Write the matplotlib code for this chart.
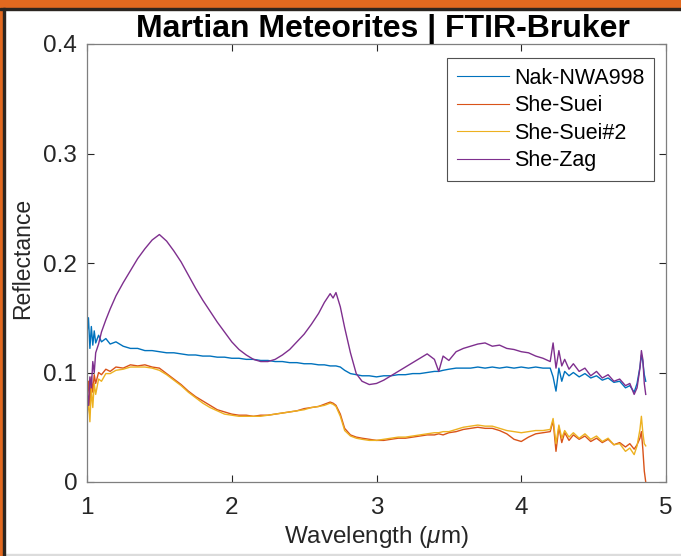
import matplotlib
matplotlib.use("Agg")
import matplotlib.pyplot as plt
from matplotlib.patches import Rectangle

plt.rcParams["font.family"] = ["Liberation Sans", "DejaVu Sans"]
plt.rcParams["mathtext.fontset"] = "custom"
plt.rcParams["mathtext.it"] = "Liberation Sans:italic"
plt.rcParams["mathtext.rm"] = "Liberation Sans"

# wavelength grid (um)
wavelength = [
    1.00, 1.01, 1.02, 1.03, 1.04, 1.05, 1.06, 1.08, 1.10, 1.13,
    1.16, 1.20, 1.25, 1.30, 1.35, 1.40, 1.45, 1.50, 1.55, 1.60,
    1.65, 1.70, 1.75, 1.80, 1.85, 1.90, 1.95, 2.00, 2.05, 2.10,
    2.15, 2.20, 2.25, 2.30, 2.35, 2.40, 2.45, 2.50, 2.55, 2.60,
    2.64, 2.68, 2.70, 2.72, 2.75, 2.78, 2.82, 2.86, 2.90, 2.95,
    3.00, 3.05, 3.10, 3.15, 3.20, 3.25, 3.30, 3.35, 3.40, 3.43,
    3.46, 3.50, 3.55, 3.60, 3.65, 3.70, 3.75, 3.80, 3.85, 3.90,
    3.95, 4.00, 4.05, 4.10, 4.15, 4.20, 4.22, 4.24, 4.26, 4.28,
    4.30, 4.33, 4.36, 4.40, 4.44, 4.48, 4.52, 4.56, 4.60, 4.64,
    4.68, 4.72, 4.75, 4.78, 4.80, 4.82, 4.83, 4.84, 4.85, 4.86,
]

nak_nwa998 = [
    0.135, 0.150, 0.122, 0.142, 0.125, 0.138, 0.127, 0.134, 0.128, 0.131,
    0.126, 0.128, 0.124, 0.122, 0.122, 0.120, 0.120, 0.119, 0.118, 0.118,
    0.117, 0.116, 0.116, 0.115, 0.115, 0.114, 0.114, 0.113, 0.113, 0.112,
    0.112, 0.111, 0.111, 0.110, 0.110, 0.109, 0.109, 0.108, 0.108, 0.107,
    0.107, 0.106, 0.106, 0.106, 0.105, 0.102, 0.099, 0.098, 0.097, 0.097,
    0.096, 0.097, 0.097, 0.098, 0.098, 0.099, 0.099, 0.100, 0.101, 0.101,
    0.102, 0.103, 0.104, 0.104, 0.104, 0.105, 0.104, 0.105, 0.104, 0.105,
    0.104, 0.105, 0.104, 0.105, 0.104, 0.104, 0.096, 0.083, 0.104, 0.092,
    0.101, 0.097, 0.100, 0.096, 0.099, 0.095, 0.097, 0.093, 0.095, 0.091,
    0.092, 0.086, 0.088, 0.082, 0.090, 0.105, 0.116, 0.110, 0.098, 0.092,
]

she_suei = [
    0.078, 0.092, 0.070, 0.096, 0.082, 0.098, 0.090, 0.100, 0.098, 0.103,
    0.101, 0.105, 0.104, 0.107, 0.106, 0.107, 0.105, 0.104, 0.099, 0.094,
    0.089, 0.083, 0.078, 0.074, 0.070, 0.066, 0.064, 0.062, 0.061, 0.061,
    0.060, 0.061, 0.061, 0.062, 0.063, 0.064, 0.065, 0.067, 0.068, 0.069,
    0.071, 0.073, 0.072, 0.070, 0.062, 0.049, 0.043, 0.041, 0.040, 0.039,
    0.038, 0.038, 0.039, 0.040, 0.040, 0.041, 0.042, 0.043, 0.043, 0.044,
    0.043, 0.045, 0.046, 0.048, 0.049, 0.050, 0.049, 0.049, 0.047, 0.044,
    0.039, 0.037, 0.041, 0.044, 0.045, 0.046, 0.056, 0.028, 0.050, 0.036,
    0.045, 0.038, 0.043, 0.039, 0.042, 0.037, 0.040, 0.036, 0.039, 0.034,
    0.036, 0.032, 0.035, 0.030, 0.034, 0.040, 0.046, 0.030, 0.010, 0.000,
]

she_suei2 = [
    0.058, 0.075, 0.055, 0.085, 0.068, 0.090, 0.080, 0.094, 0.092, 0.099,
    0.099, 0.102, 0.103, 0.105, 0.105, 0.105, 0.104, 0.102, 0.098, 0.093,
    0.088, 0.082, 0.077, 0.072, 0.068, 0.065, 0.062, 0.061, 0.060, 0.060,
    0.060, 0.060, 0.061, 0.062, 0.063, 0.064, 0.065, 0.066, 0.068, 0.069,
    0.070, 0.072, 0.071, 0.069, 0.060, 0.047, 0.042, 0.040, 0.039, 0.038,
    0.038, 0.039, 0.040, 0.041, 0.041, 0.042, 0.043, 0.044, 0.045, 0.045,
    0.046, 0.046, 0.048, 0.050, 0.051, 0.052, 0.051, 0.051, 0.049, 0.047,
    0.046, 0.045, 0.046, 0.047, 0.047, 0.048, 0.058, 0.035, 0.052, 0.040,
    0.047, 0.041, 0.045, 0.040, 0.044, 0.039, 0.042, 0.037, 0.040, 0.034,
    0.035, 0.028, 0.031, 0.025, 0.033, 0.048, 0.060, 0.045, 0.035, 0.033,
]

she_zag = [
    0.083, 0.070, 0.096, 0.086, 0.110, 0.100, 0.118, 0.126, 0.137, 0.148,
    0.158, 0.170, 0.182, 0.193, 0.204, 0.213, 0.221, 0.226, 0.220, 0.211,
    0.201, 0.189, 0.177, 0.166, 0.156, 0.146, 0.137, 0.128, 0.121, 0.116,
    0.112, 0.110, 0.110, 0.112, 0.116, 0.121, 0.128, 0.135, 0.144, 0.154,
    0.164, 0.172, 0.168, 0.173, 0.160, 0.141, 0.118, 0.099, 0.092, 0.089,
    0.090, 0.093, 0.097, 0.101, 0.105, 0.109, 0.113, 0.117, 0.112, 0.101,
    0.115, 0.111, 0.119, 0.122, 0.124, 0.126, 0.127, 0.124, 0.125, 0.122,
    0.121, 0.119, 0.118, 0.115, 0.113, 0.110, 0.127, 0.104, 0.120, 0.106,
    0.112, 0.103, 0.108, 0.101, 0.104, 0.097, 0.101, 0.095, 0.098, 0.092,
    0.094, 0.088, 0.090, 0.080, 0.086, 0.104, 0.120, 0.112, 0.090, 0.080,
]

series = [
    ("Nak-NWA998", nak_nwa998, "#0072BD"),
    ("She-Suei", she_suei, "#D95319"),
    ("She-Suei#2", she_suei2, "#EDB120"),
    ("She-Zag", she_zag, "#7E2F8E"),
]

fig = plt.figure(figsize=(6.81, 5.56), dpi=100)
ax = fig.add_axes([87 / 681, 1 - 482 / 556, 579 / 681, 438 / 556])

for name, vals, col in series:
    ax.plot(wavelength, vals, color=col, lw=1.0, label=name)

ax.set_xlim(1, 5)
ax.set_ylim(0, 0.4)
ax.set_xticks([1, 2, 3, 4, 5])
ax.set_yticks([0, 0.1, 0.2, 0.3, 0.4])
ax.set_yticklabels(["0", "0.1", "0.2", "0.3", "0.4"])
ax.tick_params(direction="in", top=True, right=True, length=5, width=0.8,
               labelsize=17.5, colors="#262626")
ax.tick_params(axis="x", pad=11)
ax.tick_params(axis="y", pad=7)
for sp in ax.spines.values():
    sp.set_color("#7f7f7f")
    sp.set_linewidth(0.9)

ax.set_xlabel(r"Wavelength ($\mu$m)", fontsize=17.5, color="#262626", va="center")
ax.xaxis.set_label_coords(0.5, -0.126)
ax.set_ylabel("Reflectance", fontsize=16.5, color="#262626", va="center")
ax.yaxis.set_label_coords(-0.112, 0.51)
ax.text(0.511, 1.034, "Martian Meteorites | FTIR-Bruker", transform=ax.transAxes,
        ha="center", va="center", fontsize=23, fontweight="bold")

leg = ax.legend(loc="upper right", fontsize=15.5, handlelength=2.45, handletextpad=0.2,
                borderpad=0.45, labelspacing=0.3, fancybox=False,
                bbox_to_anchor=(0.979, 0.968), borderaxespad=0)
leg.get_frame().set_edgecolor("#262626")
leg.get_frame().set_linewidth(0.8)
for line in leg.get_lines():
    line.set_linewidth(0.8)

# orange slide frame around the screenshot
fig.patches.append(Rectangle((0, 1 - 8 / 556), 1, 8 / 556, transform=fig.transFigure,
                             color="#E2691F", zorder=10))
fig.patches.append(Rectangle((0, 0), 3 / 681, 1, transform=fig.transFigure,
                             color="#E2691F", zorder=10))
fig.patches.append(Rectangle((0, 1 - 10 / 556), 1, 2 / 556, transform=fig.transFigure,
                             color="#2b2520", zorder=10))
fig.patches.append(Rectangle((3 / 681, 0), 1.5 / 681, 1 - 8 / 556, transform=fig.transFigure,
                             color="#2b2520", zorder=10))
fig.patches.append(Rectangle((0, 0), 1, 2 / 556, transform=fig.transFigure,
                             color="#dcdcdc", zorder=9))

fig.savefig("out.png", dpi=100)
